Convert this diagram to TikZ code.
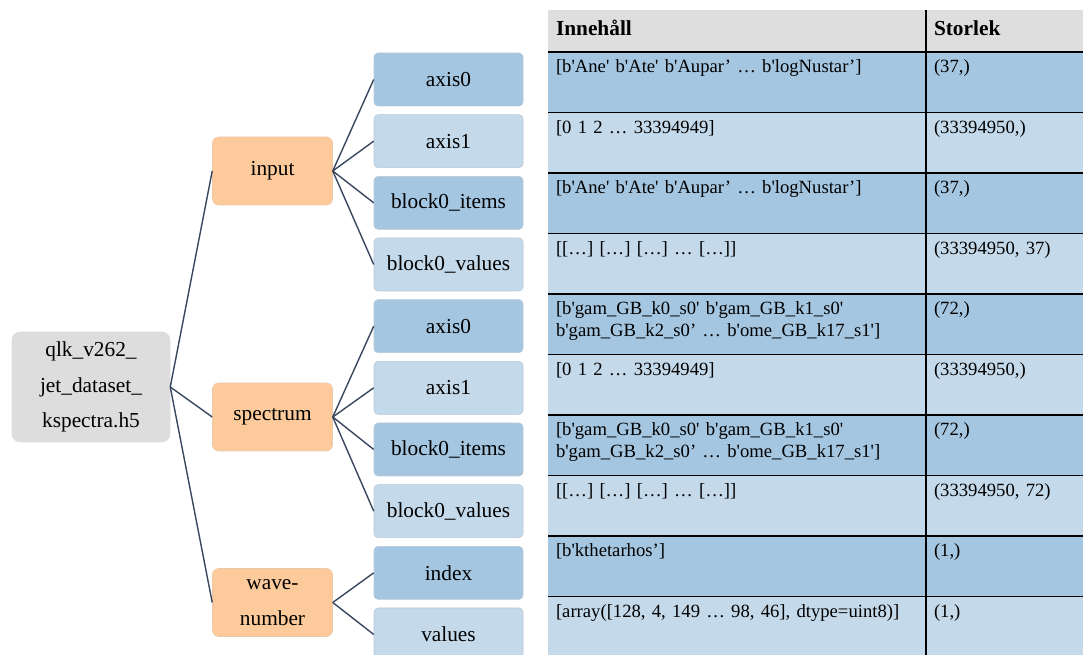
\documentclass[tikz,border=0pt]{standalone}
\usepackage{fontspec}
\setmainfont{Liberation Serif}[Ligatures=TeXOff]
\usetikzlibrary{positioning}
\definecolor{rootgray}{RGB}{221,221,221}
\definecolor{grouporange}{RGB}{253,203,155}
\definecolor{groupedge}{RGB}{236,200,170}
\definecolor{darkblue}{RGB}{164,198,225}
\definecolor{lightblue}{RGB}{196,217,234}
\definecolor{boxedge}{RGB}{185,200,215}
\definecolor{headgray}{RGB}{222,222,222}
\definecolor{linkcol}{RGB}{56,71,94}

\begin{document}
\begin{tikzpicture}[
    x=0.75pt, y=0.75pt,
    node distance=6.1pt,
    tree/.style={rectangle, align=center, inner sep=2pt, line width=0.4pt, font=\fontsize{16}{26.5}\selectfont},
    rootbox/.style={tree, rounded corners=6pt, fill=rootgray, draw=rootgray, minimum width=118.5pt, minimum height=82.5pt},
    group/.style={tree, rounded corners=4.5pt, fill=grouporange, draw=groupedge, minimum width=90pt, minimum height=51pt},
    leafA/.style={tree, rounded corners=3pt, fill=darkblue, draw=boxedge, minimum width=111.75pt, minimum height=39.75pt},
    leafB/.style={leafA, fill=lightblue},
    link/.style={draw=linkcol, line width=1.05pt},
    cell/.style={rectangle, anchor=north west, outer sep=0pt, inner xsep=6pt, inner ysep=0pt, align=left,
      font=\fontsize{14}{16}\selectfont, text height=15.75pt, text depth=29.625pt},
    colA/.style={cell, text width=271.5pt},
    colB/.style={cell, text width=105.75pt},
    headA/.style={colA, fill=headgray, text height=19.5pt, text depth=12pt, font=\fontsize{16}{18}\selectfont\bfseries},
    headB/.style={headA, text width=105.75pt},
    rule/.style={draw=black, line width=0.9pt}
  ]
  \clip (0,0) rectangle (1083,655);

  % file tree
  \node[rootbox] (root) at (91,268) {qlk\_v262\_\\jet\_dataset\_\\kspectra.h5};
  \node[group] (input) at (272.5,484) {input};
  \node[group] (spectrum) at (272.5,238) {spectrum};
  \node[group] (wavenum) at (272.5,52.5) {wave-\\number};

  \node[leafA] (inAxis0) at (448.5,575.5) {axis0};
  \node[leafB, below=of inAxis0] (inAxis1) {axis1};
  \node[leafA, below=of inAxis1] (inItems) {block0\_items};
  \node[leafB, below=of inItems] (inValues) {block0\_values};
  \node[leafA, below=of inValues] (spAxis0) {axis0};
  \node[leafB, below=of spAxis0] (spAxis1) {axis1};
  \node[leafA, below=of spAxis1] (spItems) {block0\_items};
  \node[leafB, below=of spItems] (spValues) {block0\_values};
  \node[leafA, below=of spValues] (wnIndex) {index};
  \node[leafB, below=of wnIndex] (wnValues) {values};

  \draw[link] (root.east) -- (input.west);
  \draw[link] (root.east) -- (spectrum.west);
  \draw[link] (root.east) -- (wavenum.west);
  \draw[link] (input.east) -- (inAxis0.west);
  \draw[link] (input.east) -- (inAxis1.west);
  \draw[link] (input.east) -- (inItems.west);
  \draw[link] (input.east) -- (inValues.west);
  \draw[link] (spectrum.east) -- (spAxis0.west);
  \draw[link] (spectrum.east) -- (spAxis1.west);
  \draw[link] (spectrum.east) -- (spItems.west);
  \draw[link] (spectrum.east) -- (spValues.west);
  \draw[link] (wavenum.east) -- (wnIndex.west);
  \draw[link] (wavenum.east) -- (wnValues.west);

  % table
  \node[headA] (hA) at (548,645) {Innehåll};
  \node[headB, right=0pt of hA] (hB) {Storlek};
  \node[colA, fill=darkblue, below=0pt of hA] (r1A) {[b'Ane' b'Ate' b'Aupar’ … b'logNustar’]};
  \node[colB, fill=darkblue, below=0pt of hB] (r1B) {(37,)};
  \node[colA, fill=lightblue, below=0pt of r1A] (r2A) {[0 1 2 … 33394949]};
  \node[colB, fill=lightblue, below=0pt of r1B] (r2B) {(33394950,)};
  \node[colA, fill=darkblue, below=0pt of r2A] (r3A) {[b'Ane' b'Ate' b'Aupar’ … b'logNustar’]};
  \node[colB, fill=darkblue, below=0pt of r2B] (r3B) {(37,)};
  \node[colA, fill=lightblue, below=0pt of r3A] (r4A) {[[…] […] […] … […]]};
  \node[colB, fill=lightblue, below=0pt of r3B] (r4B) {(33394950, 37)};
  \node[colA, fill=darkblue, below=0pt of r4A] (r5A) {[b'gam\_GB\_k0\_s0' b'gam\_GB\_k1\_s0'\\b'gam\_GB\_k2\_s0’ … b'ome\_GB\_k17\_s1']};
  \node[colB, fill=darkblue, below=0pt of r4B] (r5B) {(72,)};
  \node[colA, fill=lightblue, below=0pt of r5A] (r6A) {[0 1 2 … 33394949]};
  \node[colB, fill=lightblue, below=0pt of r5B] (r6B) {(33394950,)};
  \node[colA, fill=darkblue, below=0pt of r6A] (r7A) {[b'gam\_GB\_k0\_s0' b'gam\_GB\_k1\_s0'\\b'gam\_GB\_k2\_s0’ … b'ome\_GB\_k17\_s1']};
  \node[colB, fill=darkblue, below=0pt of r6B] (r7B) {(72,)};
  \node[colA, fill=lightblue, below=0pt of r7A] (r8A) {[[…] […] […] … […]]};
  \node[colB, fill=lightblue, below=0pt of r7B] (r8B) {(33394950, 72)};
  \node[colA, fill=darkblue, below=0pt of r8A] (r9A) {[b'kthetarhos’]};
  \node[colB, fill=darkblue, below=0pt of r8B] (r9B) {(1,)};
  \node[colA, fill=lightblue, below=0pt of r9A] (r10A) {[array([128, 4, 149 … 98, 46], dtype=uint8)]};
  \node[colB, fill=lightblue, below=0pt of r9B] (r10B) {(1,)};

  \draw[rule] (hA.south west) -- (hB.south east);
  \draw[rule] (r1A.south west) -- (r1B.south east);
  \draw[rule] (r2A.south west) -- (r2B.south east);
  \draw[rule] (r3A.south west) -- (r3B.south east);
  \draw[rule] (r4A.south west) -- (r4B.south east);
  \draw[rule] (r5A.south west) -- (r5B.south east);
  \draw[rule] (r6A.south west) -- (r6B.south east);
  \draw[rule] (r7A.south west) -- (r7B.south east);
  \draw[rule] (r8A.south west) -- (r8B.south east);
  \draw[rule] (r9A.south west) -- (r9B.south east);
  \draw[rule] (hB.north west) -- (r10B.south west);
\end{tikzpicture}
\end{document}
